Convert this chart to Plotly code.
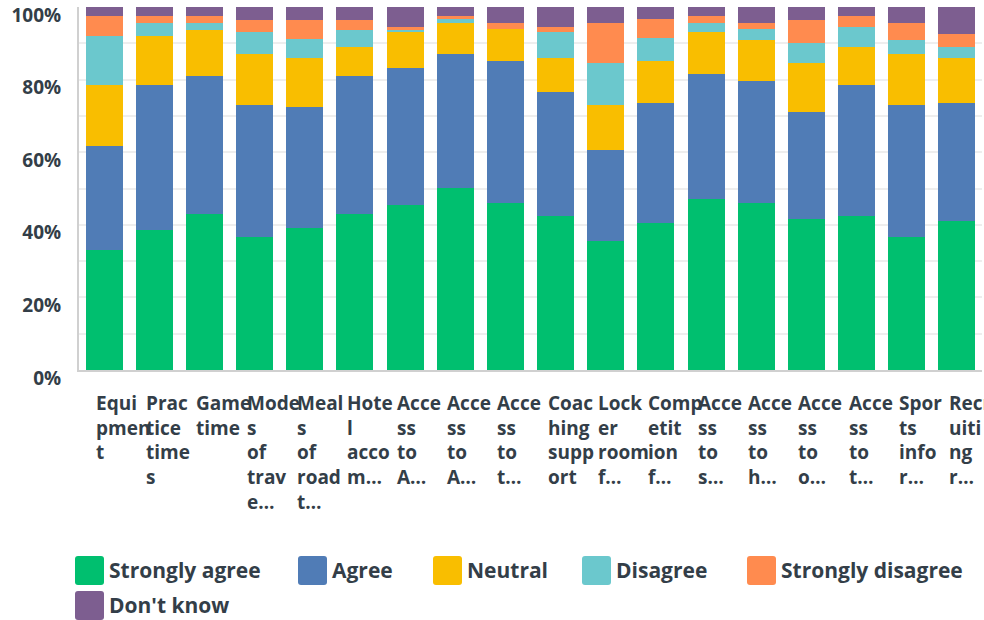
import plotly.graph_objects as go

# wrapped / truncated category labels as shown under the bars
labels = [
    "Equi<br>pmen<br>t",
    "Prac<br>tice<br>time<br>s",
    "Game<br>time",
    "Mode<br>s<br>of<br>trav<br>e…",
    "Meal<br>s<br>of<br>road<br>t…",
    "Hote<br>l<br>acco<br>m…",
    "Acce<br>ss<br>to<br>A…",
    "Acce<br>ss<br>to<br>A…",
    "Acce<br>ss<br>to<br>t…",
    "Coac<br>hing<br>supp<br>ort",
    "Lock<br>er<br>room<br>f…",
    "Comp<br>etit<br>ion<br>f…",
    "Acce<br>ss<br>to<br>s…",
    "Acce<br>ss<br>to<br>h…",
    "Acce<br>ss<br>to<br>o…",
    "Acce<br>ss<br>to<br>t…",
    "Spor<br>ts<br>info<br>r…",
    "Recr<br>uiti<br>ng<br>r…",
]

strongly_agree = [33.1, 38.6, 43.1, 36.6, 39.2, 43.1, 45.5, 50.2, 46.0, 42.5, 35.5, 40.5, 47.1, 46.0, 41.6, 42.5, 36.6, 41.0]
agree = [28.7, 39.9, 37.9, 36.4, 33.3, 37.9, 37.7, 36.9, 39.1, 34.2, 25.2, 33.1, 34.5, 33.7, 29.6, 36.0, 36.4, 32.6]
neutral = [16.7, 13.6, 12.7, 14.1, 13.5, 8.0, 10.0, 8.5, 8.8, 9.3, 12.3, 11.5, 11.6, 11.3, 13.4, 10.5, 14.1, 12.4]
disagree = [13.6, 3.5, 1.9, 6.1, 5.2, 4.7, 0.5, 1.0, 0.0, 7.2, 11.6, 6.4, 2.4, 2.9, 5.5, 5.5, 3.9, 3.0]
strongly_disagree = [5.4, 1.9, 1.9, 3.2, 5.2, 2.7, 0.8, 0.9, 1.7, 1.3, 11.0, 5.2, 1.9, 1.7, 6.3, 3.0, 4.6, 3.6]
dont_know = [2.5, 2.5, 2.5, 3.6, 3.6, 3.6, 5.5, 2.5, 4.4, 5.5, 4.4, 3.3, 2.5, 4.4, 3.6, 2.5, 4.4, 7.4]

series = [
    ("Strongly agree", strongly_agree, "#00BF6F"),
    ("Agree", agree, "#507CB6"),
    ("Neutral", neutral, "#F9BE00"),
    ("Disagree", disagree, "#6BC8CD"),
    ("Strongly disagree", strongly_disagree, "#FF8B4F"),
    ("Don't know", dont_know, "#7D5E90"),
]

TEXT = "#333E48"
FONT = "Open Sans"

# plot area in pixels (used to place the hand-made legend)
W, H = 984, 620
ML, MR, MT, MB = 79, 2, 7, 250
PW, PH = W - ML - MR, H - MT - MB


def px_x(px):
    return (px - ML) / PW


def px_y(py):
    return (H - MB - py) / PH


def rounded_square(x0, y0, size, r=3):
    x1, y1 = x0 + size, y0 + size
    pts = [
        f"M{px_x(x0 + r)},{px_y(y0)}",
        f"L{px_x(x1 - r)},{px_y(y0)}",
        f"Q{px_x(x1)},{px_y(y0)} {px_x(x1)},{px_y(y0 + r)}",
        f"L{px_x(x1)},{px_y(y1 - r)}",
        f"Q{px_x(x1)},{px_y(y1)} {px_x(x1 - r)},{px_y(y1)}",
        f"L{px_x(x0 + r)},{px_y(y1)}",
        f"Q{px_x(x0)},{px_y(y1)} {px_x(x0)},{px_y(y1 - r)}",
        f"L{px_x(x0)},{px_y(y0 + r)}",
        f"Q{px_x(x0)},{px_y(y0)} {px_x(x0 + r)},{px_y(y0)}",
        "Z",
    ]
    return " ".join(pts)


x = list(range(len(labels)))

fig = go.Figure()
for name, vals, color in series:
    fig.add_trace(go.Bar(
        x=x, y=vals, name=name,
        marker=dict(color=color, line=dict(width=0)),
        showlegend=False,
    ))

annotations = []
for i, lab in enumerate(labels):
    annotations.append(dict(
        x=i, xref="x", y=px_y(388), yref="paper",
        text=lab, showarrow=False, xanchor="left", yanchor="top",
        align="left", xshift=-10,
        font=dict(family=FONT, size=19, color=TEXT, weight=700),
    ))

# legend: (left px of swatch, top px of swatch)
legend_pos = [(75, 556), (298, 556), (433, 556), (582, 556), (747, 556), (75, 591)]
shapes = []
for (name, _, color), (lx, ly) in zip(series, legend_pos):
    shapes.append(dict(
        type="path", xref="paper", yref="paper", path=rounded_square(lx, ly, 29),
        fillcolor=color, line=dict(width=0), layer="above",
    ))
    annotations.append(dict(
        x=px_x(lx + 32), xref="paper", y=px_y(ly + 14), yref="paper",
        text=name, showarrow=False, xanchor="left", yanchor="middle",
        font=dict(family=FONT, size=21, color=TEXT, weight=700),
    ))

fig.update_layout(
    barmode="stack",
    bargap=0.263,
    width=W, height=H,
    margin=dict(l=ML, r=MR, t=MT, b=MB, autoexpand=False),
    plot_bgcolor="white", paper_bgcolor="white",
    font=dict(family=FONT, color=TEXT),
    annotations=annotations,
    shapes=shapes,
)
fig.update_xaxes(
    range=[-0.5, len(labels) - 0.5],
    showticklabels=False, showgrid=False, zeroline=False,
    showline=True, linecolor="#D0D0D0", linewidth=2,
    automargin=False,
)
fig.update_yaxes(
    range=[0, 100], dtick=20,
    tickvals=[0, 20, 40, 60, 80, 100],
    ticktext=["0%", "20%", "40%", "60%", "80%", "100%"],
    tickfont=dict(family=FONT, size=19, color=TEXT, weight=700),
    ticks="", ticklabelstandoff=12, ticklabelshift=8,
    showgrid=True, gridcolor="#EEEEEE", gridwidth=2,
    minor=dict(dtick=10, showgrid=True, gridcolor="#EEEEEE", gridwidth=2),
    zeroline=False,
    showline=True, linecolor="#D0D0D0", linewidth=2,
    automargin=False,
)

# drop the browser's default 8px body margin so the figure sits at the window corner
fig.write_html(
    "out.html",
    config={"displayModeBar": False},
    post_script="document.body.style.margin = '0';",
)
